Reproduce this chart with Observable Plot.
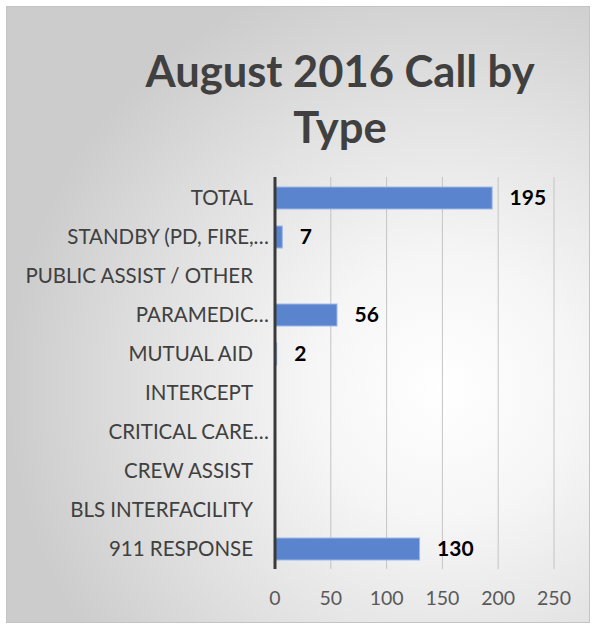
<!DOCTYPE html>
<html>
<head>
<meta charset="utf-8">
<script src="https://cdn.jsdelivr.net/npm/d3@7"></script>
<script src="https://cdn.jsdelivr.net/npm/@observablehq/plot@0.6"></script>
<style>
  html, body { margin: 0; padding: 0; background: #ffffff; }
  #wrap { position: relative; width: 594px; height: 627px; overflow: hidden; }
  #frame {
    position: absolute; left: 6px; top: 6px; width: 582px; height: 615px;
    border: 1px solid #c4c4c4;
    background: radial-gradient(ellipse 75% 70% at 75% 62%, #ffffff 0%, #f6f6f6 30%, #e2e2e2 65%, #cccccc 100%);
  }
  #title {
    position: absolute; left: 100px; width: 480px; top: 42px;
    text-align: center; font-family: Lato, "Open Sans", sans-serif; font-weight: 700;
    font-size: 43.5px; line-height: 56px; color: #404040;
  }
  #chart { position: absolute; left: 0; top: 160px; }
</style>
</head>
<body>
<div id="wrap">
  <div id="frame"></div>
  <div id="title">August 2016 Call by<br>Type</div>
  <div id="chart"></div>
</div>
<script>
const categories = [
  "TOTAL",
  "STANDBY (PD, FIRE,…",
  "PUBLIC ASSIST / OTHER",
  "PARAMEDIC…",
  "MUTUAL AID",
  "INTERCEPT",
  "CRITICAL CARE…",
  "CREW ASSIST",
  "BLS INTERFACILITY",
  "911 RESPONSE"
];
const values = [195, 7, 0, 56, 2, 0, 0, 0, 0, 130];
const xTicks = [0, 50, 100, 150, 200, 250];

const data = categories.map((c, i) => ({category: c, value: values[i]}));
const labelled = data.filter(d => d.value > 0);
const truncated = categories.filter(c => c.endsWith("…"));
const full = categories.filter(c => !c.endsWith("…"));

const plot = Plot.plot({
  width: 594,
  height: 467,
  marginLeft: 274.5,
  marginRight: 40.5,
  marginTop: 17,
  marginBottom: 58,
  style: {background: "transparent", fontFamily: "Lato, 'Open Sans', sans-serif", overflow: "visible"},
  x: {domain: [0, 250], ticks: xTicks},
  y: {domain: categories, paddingInner: 0.44, paddingOuter: 0.22},
  marks: [
    Plot.gridX(xTicks.filter(t => t > 0), {stroke: "#c4c4c4", strokeOpacity: 1, strokeWidth: 1}),
    Plot.barX(data, {x: "value", y: "category", fill: "#5b84cf", stroke: "#9fb8e6", strokeWidth: 1}),
    Plot.ruleX([0], {stroke: "#3a3a3a", strokeWidth: 3}),
    Plot.text(labelled, {x: "value", y: "category", text: d => String(d.value), textAnchor: "start", dx: 17, fontSize: 21, fontWeight: 700, fill: "#000000"}),
    Plot.axisX({ticks: xTicks, tickSize: 0, tickPadding: 22, fontSize: 19.5, color: "#595959", label: null}),
    Plot.axisY({ticks: full, tickSize: 0, tickPadding: 22, fontSize: 20.5, color: "#404040", label: null}),
    Plot.axisY({ticks: truncated, tickSize: 0, tickPadding: 6, fontSize: 20.5, color: "#404040", label: null})
  ]
});
document.getElementById("chart").appendChild(plot);
</script>
</body>
</html>
